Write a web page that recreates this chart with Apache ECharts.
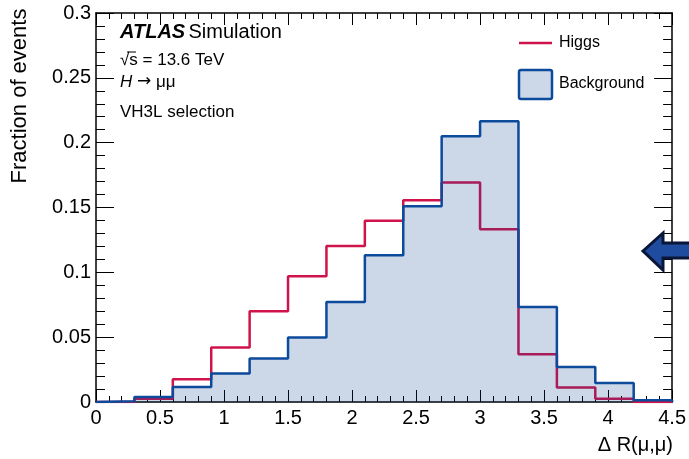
<!DOCTYPE html>
<html>
<head>
<meta charset="utf-8">
<script src="https://cdn.jsdelivr.net/npm/echarts@6/dist/echarts.min.js"></script>
<style>
  html, body { margin: 0; padding: 0; background: #fff; }
  #chart { width: 689px; height: 459px; }
</style>
</head>
<body>
<div id="chart"></div>
<script>
// Bin edges of the ΔR(μ,μ) histogram (width 0.3, from 0 to 4.5)
const binEdges = [0, 0.3, 0.6, 0.9, 1.2, 1.5, 1.8, 2.1, 2.4, 2.7, 3.0, 3.3, 3.6, 3.9, 4.2, 4.5];

// Normalised bin contents
const higgsValues = [0.0000, 0.0025, 0.0175, 0.0420, 0.0700, 0.0970, 0.1204, 0.1397, 0.1556, 0.1693, 0.1333, 0.0368, 0.0111, 0.0026, 0.0000];
const backgroundValues = [0.0005, 0.0039, 0.0116, 0.0219, 0.0335, 0.0497, 0.0772, 0.1132, 0.1510, 0.2050, 0.2166, 0.0733, 0.0270, 0.0147, 0.0013];

// Axis tick labels
const xTicks = ['0', '0.5', '1', '1.5', '2', '2.5', '3', '3.5', '4', '4.5'];
const yTicks = ['0', '0.05', '0.1', '0.15', '0.2', '0.25', '0.3'];

const FONT = '"Liberation Sans", Arial, Helvetica, sans-serif';

// Turn bin contents into step points: each bin starts at its low edge,
// the last bin is closed at the upper edge, and the outline drops to zero.
function stepPoints(values) {
  const pts = [[binEdges[0], 0]];
  values.forEach((v, i) => pts.push([binEdges[i], v]));
  pts.push([binEdges[binEdges.length - 1], values[values.length - 1]]);
  pts.push([binEdges[binEdges.length - 1], 0]);
  return pts;
}

function fmt(list) {
  return function (val) {
    const s = String(Math.round(val * 1000) / 1000);
    return list.indexOf(s) >= 0 ? s : '';
  };
}

const chart = echarts.init(document.getElementById('chart'), null, { renderer: 'canvas' });

const axisLine = { show: true, onZero: false, lineStyle: { color: '#000', width: 1.5 } };

const baseX = {
  type: 'value', min: 0, max: 4.5, interval: 0.5,
  axisLine: axisLine,
  splitLine: { show: false },
  axisTick: { show: true, inside: true, length: 12, lineStyle: { color: '#000', width: 1 } },
  minorTick: { show: true, splitNumber: 5, length: 6, lineStyle: { color: '#000', width: 1 } }
};
const baseY = {
  type: 'value', min: 0, max: 0.3, interval: 0.05,
  axisLine: axisLine,
  splitLine: { show: false },
  axisTick: { show: true, inside: true, length: 18, lineStyle: { color: '#000', width: 1 } },
  minorTick: { show: true, splitNumber: 5, length: 9, lineStyle: { color: '#000', width: 1 } }
};

const fillColor = 'rgba(0, 55, 140, 0.2)';

chart.setOption({
  animation: false,
  backgroundColor: '#fff',
  grid: { left: 96, right: 16, top: 13, bottom: 57, containLabel: false },
  xAxis: [
    Object.assign({}, baseX, {
      position: 'bottom',
      axisLabel: { show: true, color: '#000', fontSize: 20, fontFamily: FONT, margin: 6, formatter: fmt(xTicks) }
    }),
    Object.assign({}, baseX, { position: 'top', axisLabel: { show: false } })
  ],
  yAxis: [
    Object.assign({}, baseY, {
      position: 'left',
      axisLabel: { show: true, color: '#000', fontSize: 20, fontFamily: FONT, margin: 5, formatter: fmt(yTicks) }
    }),
    Object.assign({}, baseY, { position: 'right', axisLabel: { show: false } })
  ],
  series: [
    {
      name: 'Higgs',
      type: 'line',
      step: 'end',
      xAxisIndex: 0, yAxisIndex: 0,
      symbol: 'none',
      lineStyle: { color: '#d0144b', width: 2.5 },
      data: stepPoints(higgsValues),
      z: 2
    },
    {
      name: 'Background',
      type: 'line',
      step: 'end',
      xAxisIndex: 0, yAxisIndex: 0,
      symbol: 'none',
      lineStyle: { color: '#0c4a9c', width: 2.5 },
      areaStyle: { color: fillColor, opacity: 1, origin: 'start' },
      data: stepPoints(backgroundValues),
      z: 3
    }
  ],
  graphic: [
    // Axis titles
    {
      type: 'text', x: 20, y: 96, rotation: Math.PI / 2, z: 10,
      style: { text: 'Fraction of events', font: '22px ' + FONT, fill: '#000', align: 'center', verticalAlign: 'middle' }
    },
    {
      type: 'text', x: 673, y: 445, z: 10,
      style: { text: 'Δ R(μ,μ)', font: '20px ' + FONT, fill: '#000', align: 'right', verticalAlign: 'middle' }
    },
    // Labels in the top-left corner
    {
      type: 'text', x: 120, y: 32, z: 10,
      style: {
        text: '{a|ATLAS} {b|Simulation}',
        verticalAlign: 'middle',
        rich: {
          a: { fontFamily: FONT, fontSize: 20, fontWeight: 'bold', fontStyle: 'italic', fill: '#000' },
          b: { fontFamily: FONT, fontSize: 20, fill: '#000' }
        }
      }
    },
    {
      type: 'text', x: 120, y: 60, z: 10,
      style: { text: '√s = 13.6 TeV', font: '17px ' + FONT, fill: '#000', verticalAlign: 'middle' }
    },
    {
      type: 'line', z: 10,
      shape: { x1: 127, y1: 52, x2: 136, y2: 52 },
      style: { stroke: '#000', lineWidth: 1 }
    },
    {
      type: 'text', x: 120, y: 82, z: 10,
      style: {
        text: '{i|H} {r|→} μμ',
        verticalAlign: 'middle',
        rich: {
          i: { fontFamily: FONT, fontSize: 17, fontStyle: 'italic', fill: '#000' },
          r: { fontFamily: '"DejaVu Sans", sans-serif', fontSize: 17, fill: '#000' }
        },
        font: '17px ' + FONT, fill: '#000'
      }
    },
    {
      type: 'text', x: 120, y: 112, z: 10,
      style: { text: 'VH3L selection', font: '17px ' + FONT, fill: '#000', verticalAlign: 'middle' }
    },
    // Legend
    {
      type: 'line', z: 10,
      shape: { x1: 519, y1: 43, x2: 552, y2: 43 },
      style: { stroke: '#d0144b', lineWidth: 2.5 }
    },
    {
      type: 'text', x: 559, y: 43, z: 10,
      style: { text: 'Higgs', font: '16px ' + FONT, fill: '#000', verticalAlign: 'middle' }
    },
    {
      type: 'rect', z: 10,
      shape: { x: 519, y: 70, width: 33, height: 29, r: 2 },
      style: { fill: fillColor, stroke: '#0c4a9c', lineWidth: 2.5 }
    },
    {
      type: 'text', x: 559, y: 84, z: 10,
      style: { text: 'Background', font: '16px ' + FONT, fill: '#000', verticalAlign: 'middle' }
    },
    // Marker arrow at the right edge
    {
      type: 'polygon', z: 20,
      shape: { points: [[643, 251], [663, 233], [663, 243], [692, 243], [692, 258], [663, 258], [663, 270]] },
      style: { fill: '#1f4c9e', stroke: '#0a1638', lineWidth: 3, lineJoin: 'miter' }
    }
  ]
});
</script>
</body>
</html>
